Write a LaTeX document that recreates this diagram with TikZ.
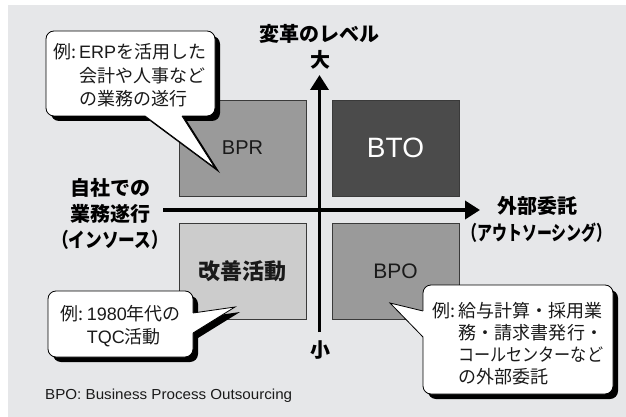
\documentclass[tikz,border=0pt]{standalone}
\usepackage{graphicx}
\usepackage{fontspec}
\setmainfont{Liberation Sans}
\newfontfamily\jp{Noto Sans CJK JP}
\usetikzlibrary{arrows.meta}
\definecolor{bgc}{HTML}{E6E7E9}
\definecolor{midg}{HTML}{9A9A9A}
\definecolor{darkg}{HTML}{4B4B4B}
\definecolor{lightg}{HTML}{CCCCCC}
\definecolor{edgeg}{HTML}{3A3A3A}
\definecolor{txt}{HTML}{1A1A1A}
\newcommand\hfitto[2]{\resizebox{#1}{\height}{#2}}
\tikzset{
  quad/.style={draw=edgeg, line width=0.9pt, minimum width=127pt, minimum height=96pt, inner sep=0pt, text=txt},
  axis/.style={line width=3.6pt, -{Triangle[length=15pt,width=18pt]}},
  axlabel/.style={font=\fontsize{20}{26}\selectfont\jp\bfseries, inner sep=0pt, align=center},
  balloon/.style={fill=white, draw=black, line width=0.8pt, rounded corners=8pt},
  pedge/.style={draw=black, line width=0.8pt, line join=miter},
  ctext/.style={inner sep=0pt, anchor=base west, text=txt},
}
\begin{document}
\begin{tikzpicture}[x=1pt,y=-1pt]
\useasboundingbox (0,0) rectangle (626,417);
\fill[bgc] (8,5) rectangle (626,417);

% quadrants
\node[quad, fill=midg]  (BPR) at (242.5,148) {\fontsize{20}{24}\selectfont BPR};
\node[quad, fill=darkg, text=white] (BTO) at (395.5,148) {\fontsize{28}{32}\selectfont BTO};
\node[quad, fill=lightg] (KZN) at (242.5,271) {\fontsize{22}{26}\selectfont\jp\bfseries 改善活動};
\node[quad, fill=midg]  (BPO) at (395.5,271) {\fontsize{21}{25}\selectfont BPO};

% axes
\coordinate (vbot) at (319.5,332);
\coordinate (vtop) at (319.5,75);
\coordinate (hleft) at (163,210);
\coordinate (hright) at (480,210);
\draw[axis] (vbot) -- (vtop);
\draw[axis] (hleft) -- (hright);

% axis labels
\node[axlabel] (lvl) at (319.5,34) {変革のレベル};
\node[axlabel] (big) at (320,60) {大};
\node[axlabel] (small) at (320,350) {小};
\node[axlabel] (insrc) at (110,213.5) {自社での\\業務遂行\\\hfitto{116pt}{（インソース）}};
\node[axlabel, font=\fontsize{20}{27}\selectfont\jp\bfseries] (outsrc) at (537,219.5) {外部委託\\\hfitto{149pt}{（アウトソーシング）}};

% callout 1
\begin{scope}[shift={(5,5)}]
  \fill[rounded corners=8pt] (46,31) rectangle (215,116);
  \fill (145,116) -- (215,168) -- (182,116) -- cycle;
\end{scope}
\path[balloon] (46,31) rectangle (215,116);
\fill[white] (145,116) -- (215,168) -- (182,116) -- (182,113) -- (145,113) -- cycle;
\draw[pedge] (145,116) -- (215,168) -- (182,116);
\node[ctext] (c1) at (53,59) {\fontsize{18}{23.5}\selectfont\begin{tabular}[t]{@{}l@{}l@{}}\jp{例}:\,&ERP\jp{を活用した}\\&\jp{会計や人事など}\\&\jp{の業務の遂行}\end{tabular}};

% callout 2
\begin{scope}[shift={(5,5)}]
  \fill[rounded corners=8pt] (48,291) rectangle (193,357);
  \fill (193,313) -- (235,307) -- (193,333) -- cycle;
\end{scope}
\path[balloon] (48,291) rectangle (193,357);
\fill[white] (193,313) -- (235,307) -- (193,333) -- (190,333) -- (190,313) -- cycle;
\draw[pedge] (193,313) -- (235,307) -- (193,333);
\node[ctext] (c2) at (60.7,320) {\fontsize{18}{23}\selectfont\begin{tabular}[t]{@{}l@{}l@{}}\jp{例}:\,&1980\jp{年代の}\\&TQC\jp{活動}\end{tabular}};

% callout 3
\begin{scope}[shift={(5,5)}]
  \fill[rounded corners=8pt] (423,285) rectangle (613,394);
  \fill (423,311) -- (390,303) -- (423,337) -- cycle;
\end{scope}
\path[balloon] (423,285) rectangle (613,394);
\fill[white] (423,311) -- (390,303) -- (423,337) -- (426,337) -- (426,311) -- cycle;
\draw[pedge] (423,311) -- (390,303) -- (423,337);
\node[ctext] (c3) at (432,317) {\fontsize{18}{22}\selectfont\begin{tabular}[t]{@{}l@{}l@{}}\jp{例}:\,&\jp{給与計算・採用業}\\&\makebox[145pt][s]{\jp 務\hfil{}・\hfil{}請\hfil{}求\hfil{}書\hfil{}発\hfil{}行\hfil{}・}\\&\hfitto{145pt}{\jp コールセンターなど}\\&\jp{の外部委託}\end{tabular}};

% footnote
\node[anchor=base west, inner sep=0pt, text=txt, font=\fontsize{14.5}{17}\selectfont] (note) at (45,399) {\hfitto{247pt}{BPO: Business Process Outsourcing}};
\end{tikzpicture}
\end{document}
